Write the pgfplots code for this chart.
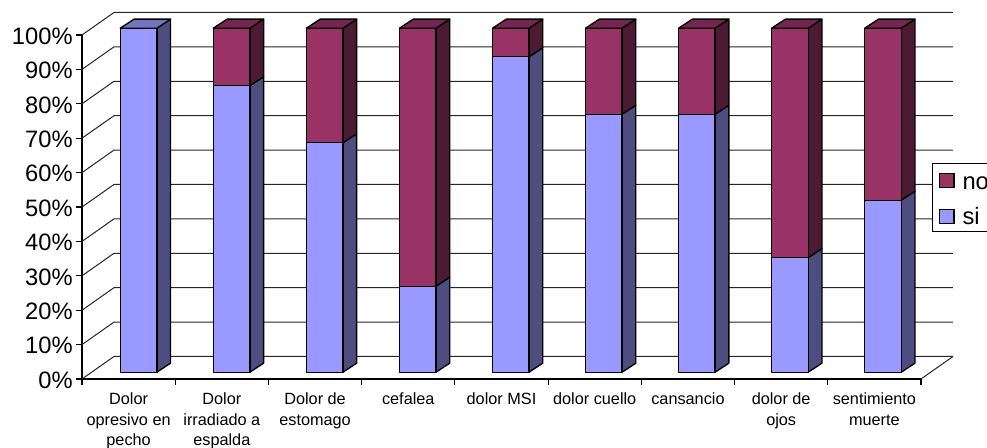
\documentclass[border=0pt]{standalone}
\usepackage{pgfplots}
\pgfplotsset{compat=1.18}
\usepackage{fontspec}
\setmainfont{Liberation Sans}

% Face colours of the stacked columns
\definecolor{siFront}{HTML}{9999FF}
\definecolor{siSide}{HTML}{4D4D80}
\definecolor{siTop}{HTML}{7373BF}
\definecolor{noFront}{HTML}{993366}
\definecolor{noSide}{HTML}{4D1A33}
\definecolor{noTop}{HTML}{732650}

% Depth of the floor and of a column, in axis units
\newcommand\floorDX{0.343}
\newcommand\floorDY{6.54}
\newcommand\barDX{0.147}
\newcommand\barDY{2.62}

\pgfplotsset{face/.style={forget plot,draw=black,line width=1pt,line join=round,fill=#1}}

% One stacked segment: front face and right side
\newcommand\segment[5]{%
  \pgfmathsetmacro\xl{0.411+0.99815*#1}%
  \pgfmathsetmacro\xr{\xl+0.392}%
  \pgfmathsetmacro\xs{\xr+\barDX}%
  \pgfmathsetmacro\yl{#2+1.98}%
  \pgfmathsetmacro\yh{#3+1.98}%
  \pgfmathsetmacro\yls{\yl+\barDY}%
  \pgfmathsetmacro\yhs{\yh+\barDY}%
  \addplot[face=#5] coordinates {(\xr,\yl) (\xs,\yls) (\xs,\yhs) (\xr,\yh)} -- cycle;
  \addplot[face=#4] coordinates {(\xl,\yl) (\xr,\yl) (\xr,\yh) (\xl,\yh)} -- cycle;
}
% Top face of a column
\newcommand\capface[2]{%
  \pgfmathsetmacro\xl{0.411+0.99815*#1}%
  \pgfmathsetmacro\xr{\xl+0.392}%
  \pgfmathsetmacro\yh{100+1.98}%
  \pgfmathsetmacro\xlb{\xl+\barDX}%
  \pgfmathsetmacro\xrb{\xr+\barDX}%
  \pgfmathsetmacro\yhb{\yh+\barDY}%
  \addplot[face=#2] coordinates {(\xl,\yh) (\xr,\yh) (\xrb,\yhb) (\xlb,\yhb)} -- cycle;
}
% Column from its two shares: index, si, no
\newcommand\stackedcolumn[3]{%
  \segment{#1}{0}{#2}{siFront}{siSide}%
  \ifdim #3pt>0pt
    \pgfmathsetmacro\total{#2+#3}%
    \segment{#1}{#2}{\total}{noFront}{noSide}%
    \capface{#1}{noTop}%
  \else
    \capface{#1}{siTop}%
  \fi
}

\begin{document}
\begin{tikzpicture}
\path[use as bounding box,clip] (0,0) rectangle (740.25pt,336pt);
\begin{axis}[
  at={(61.5pt,51.75pt)},
  anchor=origin,
  scale only axis,
  width=629.25pt,
  height=258pt,
  xmin=0,xmax=9,
  ymin=0,ymax=100,
  clip=false,
  axis x line*=bottom,
  axis y line*=left,
  axis line style={black,line width=0.8pt},
  tick style={black,line width=0.8pt},
  tick align=outside,
  major tick length=4.5pt,
  ytick={0,10,...,100},
  yticklabel={\pgfmathprintnumber{\tick}\%},
  /pgf/number format/assume math mode=true,
  yticklabel style={font=\fontsize{17.8pt}{19pt}\selectfont,xshift=1pt,yshift=-0.8pt},
  xtick={0,...,9},
  x tick label as interval,
  xticklabels={{Dolor\\opresivo en\\pecho},{Dolor\\irradiado a\\espalda},{Dolor de\\estomago},{cefalea},{dolor MSI},{dolor cuello},{cansancio},{dolor de\\ojos},{sentimiento\\muerte}},
  xticklabel style={font=\fontsize{12.2pt}{15.2pt}\selectfont,align=center,yshift=-2.6pt},
  legend cell align=left,
  legend style={
    at={(axis cs:9.115,62.7)},anchor=north west,
    draw=black,line width=0.6pt,fill=white,
    font=\fontsize{17.8pt}{19pt}\selectfont,
    inner xsep=5pt,inner ysep=2pt,
    row sep=7.2pt,
    /tikz/every odd column/.append style={column sep=4pt},
  },
  legend image code/.code={\draw[#1,line width=0.8pt] (0pt,-5pt) rectangle (11pt,5.5pt);},
]
% Side wall and back wall rulings
\pgfplotsinvokeforeach{0,10,...,100}{
  \pgfmathsetmacro\yb{#1+\floorDY}
  \addplot[black!85,line width=0.75pt,forget plot] coordinates {(0,#1) (\floorDX,\yb) (9.343,\yb)};
}
% Right edge of the floor
\addplot[black!85,line width=0.75pt,forget plot] coordinates {(9,0) (9.343,\floorDY)};

% index, si, no
\stackedcolumn{0}{100}{0}
\stackedcolumn{1}{83.3}{16.7}
\stackedcolumn{2}{66.7}{33.3}
\stackedcolumn{3}{25}{75}
\stackedcolumn{4}{91.7}{8.3}
\stackedcolumn{5}{75}{25}
\stackedcolumn{6}{75}{25}
\stackedcolumn{7}{33.3}{66.7}
\stackedcolumn{8}{50}{50}

\addlegendimage{fill=noFront,draw=black}
\addlegendentry{\rule{0pt}{15.7pt}no\hspace{40pt}}
\addlegendimage{fill=siFront,draw=black}
\addlegendentry{si}
\end{axis}
\end{tikzpicture}
\end{document}
